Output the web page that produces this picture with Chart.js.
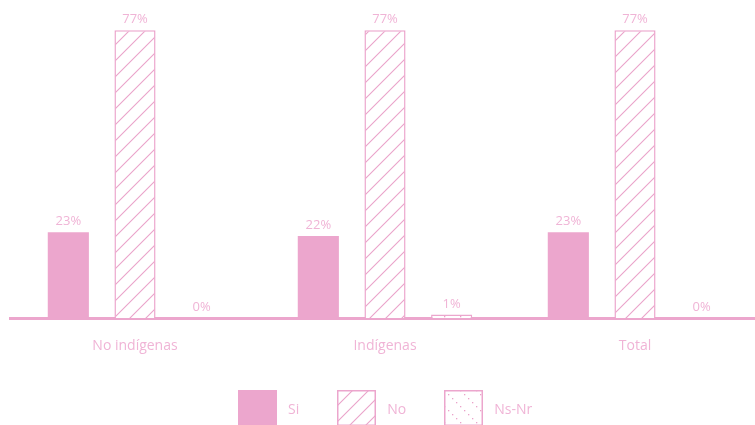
<!DOCTYPE html>
<html>
<head>
<meta charset="utf-8">
<script src="https://cdn.jsdelivr.net/npm/chart.js@4.4.0/dist/chart.umd.min.js"></script>
<style>
  html, body { margin: 0; padding: 0; background: #fff; overflow: hidden; }
  #wrap { position: relative; width: 765px; height: 425px; }
  #legend {
    position: absolute; left: 238px; top: 390px;
    display: flex; align-items: center;
    font: 14px "Open Sans", sans-serif; color: #f0b4d6;
  }
  #legend .item { display: flex; align-items: center; margin-right: 38px; }
  #legend canvas { display: block; margin-right: 11px; }
</style>
</head>
<body>
<div id="wrap">
  <canvas id="chart" width="765" height="425"></canvas>
  <div id="legend"></div>
</div>
<script>
// Respuesta por grupo
const categories = ['No indígenas', 'Indígenas', 'Total'];
const seriesNames = ['Si', 'No', 'Ns-Nr'];
const siValues = [23, 22, 23];
const noValues = [77, 77, 77];
const nsnrValues = [0, 1, 0];

const PINK = '#eca6cd';
const LINE_PINK = '#eaa3ca';
const TEXT_PINK = '#f0b4d6';

// hatch patterns for the outlined bars
function makePattern(kind) {
  const size = 16;
  const c = document.createElement('canvas');
  c.width = size;
  c.height = size;
  const g = c.getContext('2d');
  g.fillStyle = '#fff';
  g.fillRect(0, 0, size, size);
  if (kind === 'slash') {
    g.strokeStyle = LINE_PINK;
    g.lineWidth = 1.1;
    g.beginPath();
    g.moveTo(-2, size + 2); g.lineTo(size + 2, -2);
    g.moveTo(-2, 2); g.lineTo(2, -2);
    g.moveTo(size - 2, size + 2); g.lineTo(size + 2, size - 2);
    g.stroke();
  } else {
    g.fillStyle = LINE_PINK;
    for (let i = 0; i < size; i += 4) {
      g.fillRect(i, i, 1.3, 1.3);
    }
  }
  return g.createPattern(c, 'repeat');
}

const fills = [PINK, makePattern('slash'), makePattern('dots')];
const borders = [0, 1.5, 1.5];

const valueLabels = {
  id: 'valueLabels',
  afterDatasetsDraw(chart) {
    const ctx = chart.ctx;
    ctx.save();
    ctx.font = '13px "Open Sans", sans-serif';
    ctx.fillStyle = TEXT_PINK;
    ctx.textAlign = 'center';
    ctx.textBaseline = 'bottom';
    chart.data.datasets.forEach((ds, i) => {
      chart.getDatasetMeta(i).data.forEach((bar, j) => {
        ctx.fillText(ds.data[j] + '%', bar.x, bar.y - 4);
      });
    });
    ctx.restore();
  }
};

const chart = new Chart(document.getElementById('chart').getContext('2d'), {
  type: 'bar',
  data: {
    labels: categories,
    datasets: [siValues, noValues, nsnrValues].map((values, i) => ({
      label: seriesNames[i],
      data: values,
      backgroundColor: fills[i],
      borderColor: PINK,
      borderWidth: borders[i]
    }))
  },
  options: {
    responsive: false,
    animation: false,
    layout: {
      padding: { left: 10, right: 5, top: 19, bottom: 60 }
    },
    datasets: {
      bar: { barPercentage: 0.617, categoryPercentage: 0.8 }
    },
    plugins: {
      legend: { display: false },
      tooltip: { enabled: false }
    },
    scales: {
      y: {
        display: false,
        min: 0,
        max: 80
      },
      x: {
        grid: { display: false },
        border: { display: true, color: PINK, width: 3 },
        ticks: {
          color: TEXT_PINK,
          padding: 11,
          font: { size: 14, family: '"Open Sans", sans-serif' }
        }
      }
    }
  },
  plugins: [valueLabels]
});

// legend built from the same datasets
const legend = document.getElementById('legend');
chart.data.datasets.forEach((ds) => {
  const item = document.createElement('div');
  item.className = 'item';
  const box = document.createElement('canvas');
  box.width = 39;
  box.height = 36;
  const g = box.getContext('2d');
  g.fillStyle = ds.backgroundColor;
  g.fillRect(0, 0, 39, 36);
  if (ds.borderWidth) {
    g.strokeStyle = ds.borderColor;
    g.lineWidth = ds.borderWidth;
    g.strokeRect(0.75, 0.75, 37.5, 34.5);
  }
  const text = document.createElement('span');
  text.textContent = ds.label;
  item.appendChild(box);
  item.appendChild(text);
  legend.appendChild(item);
});
</script>
</body>
</html>
